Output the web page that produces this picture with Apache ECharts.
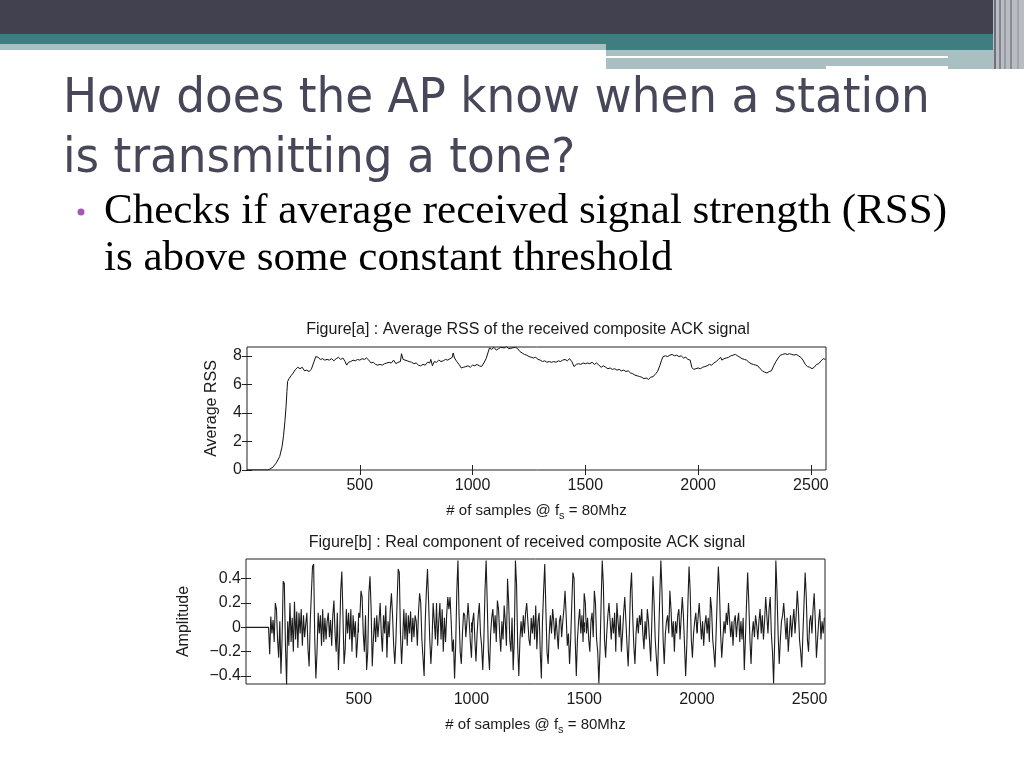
<!DOCTYPE html>
<html><head><meta charset="utf-8">
<script src="https://cdn.jsdelivr.net/npm/echarts@6/dist/echarts.min.js"></script>
<style>html,body{margin:0;padding:0;background:#fff}#c{width:1024px;height:768px}</style>
</head><body><div id="c"></div>
<script>
// ---- data ----
const slideTitle1 = 'How does the AP know when a station';
const slideTitle2 = 'is transmitting a tone?';
const bullet1 = 'Checks if average received signal strength (RSS)';
const bullet2 = 'is above some constant threshold';
const titleA = 'Figure[a] : Average RSS of the received composite ACK signal';
const titleB = 'Figure[b] : Real component of received composite ACK signal';
const xTicks = [500, 1000, 1500, 2000, 2500];
const rssTicks = [0, 2, 4, 6, 8];
const ampTicks = [-0.4, -0.2, 0, 0.2, 0.4];

const rssX = [0,90,100,115,130,145,155,162,168,173,177,180,186,195,205,215,225,235,245,255,265,275,285,295,305,315,325,335,345,355,365,375,385,395,405,415,425,435,442,450,460,470,480,490,500,510,520,530,540,550,560,570,580,590,600,610,620,630,640,650,660,670,680,685,692,700,710,720,730,740,750,760,770,780,790,800,810,815,822,830,840,850,860,870,880,890,900,910,914,920,930,940,950,960,970,980,990,1000,1010,1020,1030,1040,1050,1060,1068,1075,1085,1095,1105,1115,1125,1140,1150,1160,1175,1190,1200,1210,1220,1230,1240,1250,1260,1270,1280,1290,1300,1310,1320,1330,1340,1350,1360,1370,1380,1390,1400,1410,1420,1430,1440,1450,1460,1470,1480,1490,1500,1510,1520,1530,1540,1550,1560,1570,1580,1590,1600,1610,1620,1630,1640,1650,1660,1670,1680,1690,1700,1710,1720,1730,1740,1750,1760,1770,1780,1790,1800,1810,1820,1830,1838,1845,1855,1865,1875,1885,1895,1905,1915,1925,1935,1945,1955,1965,1972,1980,1990,2000,2010,2020,2030,2040,2050,2060,2070,2080,2090,2100,2105,2115,2125,2135,2145,2155,2165,2175,2185,2195,2205,2215,2225,2235,2245,2255,2265,2275,2285,2295,2305,2315,2325,2335,2345,2355,2365,2375,2385,2395,2405,2415,2425,2435,2445,2455,2465,2475,2485,2495,2505,2515,2525,2535,2545,2555,2565];
const rssY = [0,0,0.05,0.2,0.5,0.95,1.6,2.4,3.4,4.4,5.5,6.2,6.4,6.6,6.8,7.05,7.2,7.1,7.2,6.95,7.0,6.9,7.05,7.5,7.95,7.9,7.75,7.8,7.7,7.75,7.7,7.8,7.65,7.8,7.9,7.75,7.85,7.6,7.35,7.55,7.6,7.7,7.65,7.75,7.7,7.8,7.75,7.85,7.7,7.5,7.55,7.4,7.35,7.4,7.35,7.45,7.5,7.55,7.5,7.7,7.45,7.55,7.6,8.15,7.75,7.7,7.65,7.6,7.55,7.45,7.5,7.35,7.3,7.4,7.35,7.55,7.5,7.75,7.3,7.6,7.55,7.7,7.6,7.65,7.75,7.7,7.8,7.9,8.2,7.85,7.6,7.4,7.15,7.2,7.25,7.3,7.2,7.35,7.3,7.4,7.3,7.25,7.5,7.8,7.9,8.55,8.45,8.6,8.4,8.5,8.6,8.55,8.65,8.5,8.55,8.6,8.5,8.3,8.2,8.1,8.05,7.95,7.9,7.85,7.9,7.75,7.7,7.6,7.65,7.55,7.6,7.55,7.6,7.55,7.65,7.6,7.7,7.75,7.65,7.8,7.6,7.25,7.4,7.45,7.4,7.5,7.45,7.5,7.45,7.55,7.4,7.5,7.35,7.2,7.3,7.2,7.1,7.15,7.05,7.1,7.0,7.05,6.95,7.0,6.9,6.95,6.8,6.75,6.65,6.6,6.55,6.5,6.4,6.45,6.35,6.5,6.55,6.7,6.9,7.3,7.7,7.95,8.0,7.95,8.05,8.1,8.0,8.05,7.95,8.0,7.85,7.9,7.75,7.7,7.2,7.05,7.1,7.15,7.1,7.2,7.25,7.3,7.4,7.35,7.5,7.6,7.75,7.9,7.7,7.8,7.85,7.9,8.0,8.05,8.1,8.0,7.9,7.8,7.75,7.7,7.55,7.45,7.4,7.35,7.3,7.1,6.95,6.85,6.8,6.9,6.95,7.3,7.6,7.85,8.05,8.1,8.15,8.1,8.15,8.1,8.05,8.1,8.0,7.9,7.7,7.4,7.25,7.2,7.1,7.2,7.4,7.45,7.65,7.8,7.75];

// amplitude samples: first value at sample 100, one value every 5 samples (silence before 100)
const ampStart = 100, ampStep = 5;
const ampY = [
0,-0.22,0.09,-0.05,0.06,-0.12,0.2,0.15,-0.1,-0.25,
0.05,-0.38,-0.1,0.38,0.36,-0.15,-0.47,0.05,-0.15,0.2,
-0.12,0.08,-0.2,0.21,-0.1,0.13,-0.17,0.12,-0.05,0.15,
-0.15,0.1,-0.08,0.03,0.12,-0.18,-0.32,0.05,0.28,0.5,
0.52,-0.1,-0.42,-0.2,0.12,-0.05,0.1,-0.15,0.15,-0.12,
0.08,-0.1,0.05,0.12,-0.08,0.06,-0.15,0.1,0.22,-0.05,
-0.2,0.12,-0.35,-0.1,0.3,0.46,0.1,-0.3,-0.18,0.15,
-0.05,0.12,-0.1,0.15,-0.2,0.1,-0.08,0.05,-0.25,-0.1,
0.12,0.08,0.3,0.25,-0.05,-0.2,0.1,-0.35,-0.2,0.28,
0.42,0.15,-0.32,-0.1,0.08,-0.12,0.1,-0.08,0.05,0.2,
-0.05,-0.2,0.1,-0.05,0.18,-0.25,0.05,-0.08,0.15,0.28,
0.1,-0.15,-0.3,-0.1,0.2,0.48,0.45,-0.05,-0.3,-0.1,
0.15,-0.1,0.12,-0.15,0.1,-0.05,0.13,-0.12,0.08,-0.08,
0.1,0.05,-0.15,0.12,0.28,0.2,-0.1,-0.25,-0.4,0.05,
0.3,0.48,0.2,-0.1,-0.3,-0.12,0.2,0.05,-0.1,0.2,
-0.15,0.05,0.2,-0.1,0.15,-0.2,0.08,-0.12,0.1,0.25,
0.15,0.25,0.05,-0.2,-0.1,-0.42,-0.15,0.3,0.55,0.1,
-0.2,-0.3,-0.05,0.12,0.1,-0.08,0.05,0.2,0.05,-0.12,
-0.25,0.05,0.12,-0.1,-0.28,-0.05,0.1,0.2,-0.05,-0.15,
-0.35,-0.1,0.3,0.55,0.2,-0.2,-0.35,-0.05,0.08,0.15,
-0.05,0.1,-0.12,0.22,0.15,-0.05,-0.2,0.05,-0.1,0.18,
0.05,-0.15,0.4,0.2,-0.1,-0.2,0.08,-0.35,-0.1,0.55,
0.35,-0.15,-0.4,-0.1,0.05,-0.08,0.1,-0.05,0.12,0.2,
0.05,-0.1,-0.15,0.08,-0.05,0.1,-0.1,0.18,-0.18,0.05,
0.12,-0.2,-0.42,0.05,0.3,0.52,0.15,-0.2,-0.3,-0.05,
0.1,-0.05,0.15,0.05,-0.1,0.08,-0.05,-0.18,0.05,0.1,
-0.08,0.05,0.15,0.3,0.1,-0.15,-0.05,-0.3,-0.1,0.2,
0.45,0.4,-0.1,-0.4,-0.1,0.05,0.15,-0.05,0.1,-0.12,
0.28,0.2,-0.05,0.08,-0.1,-0.2,0.05,0.12,-0.08,0.3,
0.2,-0.1,-0.2,-0.46,-0.2,0.2,0.55,0.35,-0.1,-0.25,
-0.05,0.1,0.2,0.05,-0.1,0.08,-0.05,0.12,-0.2,0.2,
0.05,-0.08,0.1,-0.2,-0.05,0.12,0.25,0.05,-0.15,-0.32,
-0.05,0.3,0.45,0.1,-0.15,-0.3,-0.05,0.08,-0.05,0.1,
0.02,0.15,-0.05,-0.18,0.05,-0.1,0.15,0.05,-0.12,-0.28,
0.05,0.42,0.2,-0.1,-0.25,-0.4,-0.1,0.25,0.55,0.3,
-0.1,-0.3,-0.05,0.05,0.1,-0.05,0.3,0.15,-0.08,0.05,
-0.2,0.05,-0.05,0.1,0.15,-0.1,0.08,0.25,0.1,-0.15,
-0.4,-0.15,0.2,0.5,0.3,-0.1,-0.25,-0.05,0.05,0.12,
-0.05,0.08,0.2,0.05,-0.1,0.05,-0.15,0.02,0.1,-0.05,
0.08,-0.12,0.25,0.15,-0.1,-0.2,-0.33,-0.05,0.25,0.5,
0.3,-0.05,-0.25,-0.1,0.05,-0.05,0.12,0.02,0.2,0.05,
-0.08,0.05,-0.15,0.05,0.1,-0.08,0.05,0.12,-0.12,0.05,
-0.1,0.08,-0.35,-0.1,0.2,0.45,0.2,-0.1,-0.3,-0.05,
0.05,-0.08,0.1,0.02,-0.1,0.05,0.15,-0.05,0.1,-0.1,
0.05,0.25,0.1,-0.05,0.15,0.25,-0.05,-0.2,-0.46,-0.1,
0.55,0.3,-0.05,-0.3,-0.1,0.05,0.1,0.2,0.05,-0.1,
0.08,-0.2,-0.05,0.1,-0.08,0.05,0.15,-0.05,0.1,0.3,
0.15,-0.1,-0.2,-0.33,-0.05,0.2,0.45,0.25,-0.1,-0.2,
0.05,0.1,-0.05,0.15,0.28,0.05,-0.25,-0.1,0.05,0.15,
-0.1,0.05,-0.05,0.08
];

// ---- build ----
const rssData = rssX.map((x, i) => [x, rssY[i]]);
const ampData = [[0, 0]].concat(ampY.map((v, i) => [ampStart + i * ampStep, v]));

const FF = '"Liberation Sans", Arial, sans-serif';
const TXT = '#1a1a1a';
const fmtNum = v => (v < 0 ? '\u2212' + String(+(-v).toFixed(1)) : String(+v.toFixed(1)));
const fmtInt = v => String(v);

function xAxes(grid, max) {
  return [
    { gridIndex: grid, type: 'value', position: 'bottom', min: 0, max: max,
      axisLine: { show: false },
      axisTick: { inside: true, length: 5, customValues: xTicks, lineStyle: { color: '#222' } },
      axisLabel: { customValues: xTicks, fontSize: 16, fontFamily: FF, color: TXT, margin: 8, formatter: fmtInt },
      splitLine: { show: false },
      name: '# of samples @ f{s|s} = 80Mhz', nameLocation: 'middle', nameGap: 30,
      nameTextStyle: { fontSize: 15, fontFamily: FF, color: TXT,
        rich: { s: { fontSize: 11, fontFamily: FF, color: TXT, padding: [10, 0, 0, 0] } } } },
    { gridIndex: grid, type: 'value', position: 'top', min: 0, max: max,
      axisLine: { show: false },
      axisTick: { inside: true, length: 5, customValues: xTicks, lineStyle: { color: '#222' } },
      axisLabel: { show: false }, splitLine: { show: false } }
  ];
}
function yAxes(grid, min, max, ticks, name, gap) {
  return [
    { gridIndex: grid, type: 'value', position: 'left', min: min, max: max,
      axisLine: { show: false },
      axisTick: { show: true, inside: true, length: 5, customValues: ticks, lineStyle: { color: '#222' } },
      axisLabel: { customValues: ticks, fontSize: 16, fontFamily: FF, color: TXT, margin: 5, formatter: fmtNum },
      splitLine: { show: false },
      name: name, nameLocation: 'middle', nameGap: gap, nameRotate: 90,
      nameTextStyle: { fontSize: 16, fontFamily: FF, color: TXT } },
    { gridIndex: grid, type: 'value', position: 'right', min: min, max: max,
      axisLine: { show: false },
      axisTick: { show: true, inside: true, length: 5, customValues: ticks, lineStyle: { color: '#222' } },
      axisLabel: { show: false }, splitLine: { show: false } }
  ];
}

const chart = echarts.init(document.getElementById('c'), null, { renderer: 'canvas' });
const option = {
  animation: false,
  backgroundColor: '#ffffff',
  grid: [
    { left: 247, top: 347, width: 579, height: 123, show: true, borderColor: '#222', borderWidth: 1, backgroundColor: 'transparent' },
    { left: 246, top: 559, width: 579, height: 125, show: true, borderColor: '#222', borderWidth: 1, backgroundColor: 'transparent' }
  ],
  xAxis: xAxes(0, 2567).concat(xAxes(1, 2568)),
  yAxis: yAxes(0, 0, 8.62, rssTicks, 'Average RSS', 27).concat(yAxes(1, -0.465, 0.562, ampTicks, 'Amplitude', 54)),
  series: [
    { type: 'line', xAxisIndex: 0, yAxisIndex: 0, data: rssData, showSymbol: false, symbol: 'none',
      lineStyle: { color: '#111', width: 1 }, clip: true },
    { type: 'line', xAxisIndex: 2, yAxisIndex: 2, data: ampData, showSymbol: false, symbol: 'none',
      lineStyle: { color: '#1c1c1c', width: 1.1 }, clip: true }
  ],
  graphic: [
    // header bands
    { type: 'rect', shape: { x: 0, y: 0, width: 1024, height: 34 }, style: { fill: '#414150' }, silent: true },
    { type: 'rect', shape: { x: 0, y: 34, width: 606, height: 10 }, style: { fill: '#3f7d80' }, silent: true },
    { type: 'rect', shape: { x: 0, y: 44, width: 606, height: 6 }, style: { fill: '#a9c0c2' }, silent: true },
    { type: 'rect', shape: { x: 606, y: 34, width: 418, height: 16 }, style: { fill: '#3f7d80' }, silent: true },
    { type: 'rect', shape: { x: 606, y: 50, width: 400, height: 6 }, style: { fill: '#a9c0c2' }, silent: true },
    { type: 'rect', shape: { x: 606, y: 58, width: 220, height: 11 }, style: { fill: '#a9c0c2' }, silent: true },
    { type: 'rect', shape: { x: 826, y: 58, width: 122, height: 8 }, style: { fill: '#a9c0c2' }, silent: true },
    { type: 'rect', shape: { x: 948, y: 50, width: 58, height: 19 }, style: { fill: '#a9c0c2' }, silent: true },
    { type: 'rect', shape: { x: 993, y: 0, width: 31, height: 69 }, style: { fill: '#b9bcc2' }, silent: true },
    { type: 'rect', shape: { x: 994, y: 0, width: 2, height: 69 }, style: { fill: '#6f6f7c' }, silent: true },
    { type: 'rect', shape: { x: 999, y: 0, width: 2, height: 69 }, style: { fill: '#85858f' }, silent: true },
    { type: 'rect', shape: { x: 1004, y: 0, width: 2, height: 69 }, style: { fill: '#9a9aa3' }, silent: true },
    { type: 'rect', shape: { x: 1010, y: 0, width: 2, height: 69 }, style: { fill: '#8a8a94' }, silent: true },
    { type: 'rect', shape: { x: 1017, y: 0, width: 2, height: 69 }, style: { fill: '#a4a4ac' }, silent: true },
    // slide title
    { type: 'text', x: 63, y: 100, scaleX: 1.05, silent: true,
      style: { text: slideTitle1, font: '48px "DejaVu Sans Condensed"', fill: '#474759', textVerticalAlign: 'middle' } },
    { type: 'text', x: 63, y: 160, scaleX: 1.05, silent: true,
      style: { text: slideTitle2, font: '48px "DejaVu Sans Condensed"', fill: '#474759', textVerticalAlign: 'middle' } },
    // bullet
    { type: 'circle', shape: { cx: 81, cy: 212, r: 3.5 }, style: { fill: '#a457b5' }, silent: true },
    { type: 'text', x: 104, y: 212, silent: true,
      style: { text: bullet1, font: '43px "Liberation Serif"', fill: '#000', textVerticalAlign: 'middle' } },
    { type: 'text', x: 104, y: 259, silent: true,
      style: { text: bullet2, font: '43px "Liberation Serif"', fill: '#000', textVerticalAlign: 'middle' } },
    // figure titles
    { type: 'text', x: 528, y: 330, silent: true,
      style: { text: titleA, font: '16px ' + FF, fill: TXT, textAlign: 'center', textVerticalAlign: 'middle' } },
    { type: 'text', x: 527, y: 543, silent: true,
      style: { text: titleB, font: '16px ' + FF, fill: TXT, textAlign: 'center', textVerticalAlign: 'middle' } }
  ]
};
chart.setOption(option);
</script>
</body></html>
